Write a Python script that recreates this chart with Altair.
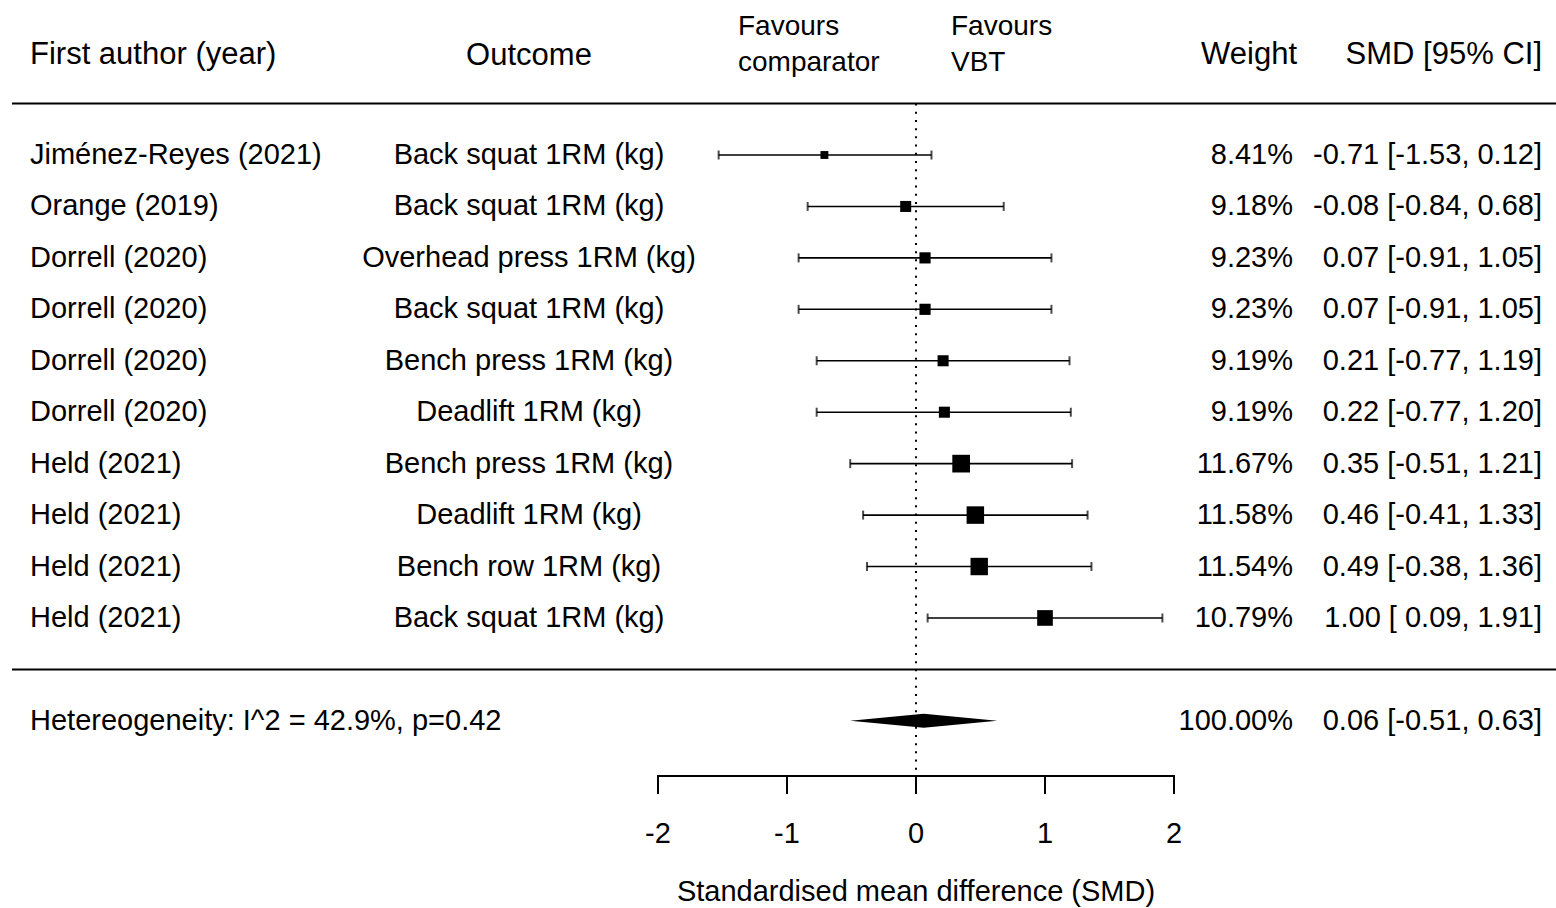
import altair as alt
import pandas as pd

FONT = "Liberation Sans"

# ---- data ----
authors = ["Jiménez-Reyes (2021)", "Orange (2019)", "Dorrell (2020)", "Dorrell (2020)",
           "Dorrell (2020)", "Dorrell (2020)", "Held (2021)", "Held (2021)",
           "Held (2021)", "Held (2021)"]
outcomes = ["Back squat 1RM (kg)", "Back squat 1RM (kg)", "Overhead press 1RM (kg)",
            "Back squat 1RM (kg)", "Bench press 1RM (kg)", "Deadlift 1RM (kg)",
            "Bench press 1RM (kg)", "Deadlift 1RM (kg)", "Bench row 1RM (kg)",
            "Back squat 1RM (kg)"]
weights = [8.41, 9.18, 9.23, 9.23, 9.19, 9.19, 11.67, 11.58, 11.54, 10.79]
smd = [-0.71, -0.08, 0.07, 0.07, 0.21, 0.22, 0.35, 0.46, 0.49, 1.00]
ci_lo = [-1.53, -0.84, -0.91, -0.91, -0.77, -0.77, -0.51, -0.41, -0.38, 0.09]
ci_hi = [0.12, 0.68, 1.05, 1.05, 1.19, 1.20, 1.21, 1.33, 1.36, 1.91]

pooled_est = 0.06
pooled_lo = -0.51
pooled_hi = 0.63
pooled_weight = 100.00
heterogeneity = "Hetereogeneity: I^2 = 42.9%, p=0.42"

axis_ticks = [-2, -1, 0, 1, 2]
axis_title = "Standardised mean difference (SMD)"

# ---- tables ----
rows = list(range(1, len(authors) + 1))
df = pd.DataFrame({
    "row": rows, "author": authors, "outcome": outcomes, "weight": weights,
    "est": smd, "lo": ci_lo, "hi": ci_hi,
})
df["wlabel"] = [f"{w:.2f}%" for w in weights]
df["cilabel"] = [f"{e:.2f} [{l:5.2f}, {h:.2f}]" for e, l, h in zip(smd, ci_lo, ci_hi)]

sum_row = len(rows) + 2
half_h = 7 / 51.44
diamond = pd.DataFrame({
    "x": [pooled_lo, pooled_est, pooled_hi],
    "ylo": [sum_row, sum_row - half_h, sum_row],
    "yhi": [sum_row, sum_row + half_h, sum_row],
})
summary = pd.DataFrame({
    "row": [sum_row],
    "het": [heterogeneity],
    "wlabel": [f"{pooled_weight:.2f}%"],
    "cilabel": [f"{pooled_est:.2f} [{pooled_lo:.2f}, {pooled_hi:.2f}]"],
})
seps = pd.DataFrame({"row": [0, len(rows) + 1]})
ref = pd.DataFrame({"x": [0], "row": [0], "title": [axis_title]})
axdf = pd.DataFrame({"x": [axis_ticks[0]], "x2": [axis_ticks[-1]]})
ticks = pd.DataFrame({"x": axis_ticks, "label": [str(t) for t in axis_ticks]})

# ---- scales ----
xscale = alt.Scale(domain=[-7.1008, 4.9612], nice=False, zero=False)
yscale = alt.Scale(domain=[-2.0132, 15.6384], nice=False, zero=False, reverse=True)
Y = alt.Y("row:Q", scale=yscale, axis=None)


def X(field):
    return alt.X(field, scale=xscale, axis=None)


txt = dict(font=FONT, fontSize=29, color="black", baseline="middle")
htxt = dict(font=FONT, fontSize=31, color="black", baseline="middle")

base = alt.Chart(df)

ci = base.mark_rule(color="black", strokeWidth=1.6).encode(x=X("lo:Q"), x2="hi:Q", y=Y)
cap_lo = base.mark_tick(color="black", orient="vertical", size=9, thickness=2).encode(x=X("lo:Q"), y=Y)
cap_hi = base.mark_tick(color="black", orient="vertical", size=9, thickness=2).encode(x=X("hi:Q"), y=Y)
boxes = base.mark_square(color="black", filled=True, opacity=1).encode(
    x=X("est:Q"), y=Y,
    size=alt.Size("weight:Q", scale=alt.Scale(domain=[8.41, 11.67], range=[62, 313], zero=False),
                  legend=None),
)

zero_line = alt.Chart(ref).mark_rule(color="black", strokeWidth=2, strokeDash=[2, 6.2]).encode(
    x=X("x:Q"), y=Y, y2=alt.value(772))

hlines = alt.Chart(seps).mark_rule(color="black", strokeWidth=2).encode(
    x=alt.value(12), x2=alt.value(1556), y=Y)

# bottom axis (drawn through the x scale)
axis_line = alt.Chart(axdf).mark_rule(color="black", strokeWidth=2).encode(
    x=X("x:Q"), x2="x2:Q", y=alt.value(776))
axis_ticks_m = alt.Chart(ticks).mark_rule(color="black", strokeWidth=2).encode(
    x=X("x:Q"), y=alt.value(775), y2=alt.value(794))
axis_labels = alt.Chart(ticks).mark_text(align="center", **txt).encode(
    x=X("x:Q"), y=alt.value(834), text="label:N")
axis_title_m = alt.Chart(ref).mark_text(align="center", **txt).encode(
    x=X("x:Q"), y=alt.value(892), text="title:N")

diamond_mark = alt.Chart(diamond).mark_area(color="black", interpolate="linear").encode(
    x=X("x:Q"),
    y=alt.Y("ylo:Q", scale=yscale, axis=None),
    y2="yhi:Q",
)

t_author = base.mark_text(align="left", **txt).encode(x=alt.value(30), y=Y, text="author:N")
t_outcome = base.mark_text(align="center", **txt).encode(x=alt.value(529), y=Y, text="outcome:N")
t_weight = base.mark_text(align="right", **txt).encode(x=alt.value(1293), y=Y, text="wlabel:N")
t_ci = base.mark_text(align="right", **txt).encode(x=alt.value(1542), y=Y, text="cilabel:N")

sbase = alt.Chart(summary)
s_het = sbase.mark_text(align="left", **txt).encode(x=alt.value(30), y=Y, text="het:N")
s_w = sbase.mark_text(align="right", **txt).encode(x=alt.value(1293), y=Y, text="wlabel:N")
s_ci = sbase.mark_text(align="right", **txt).encode(x=alt.value(1542), y=Y, text="cilabel:N")

hdr = alt.Chart(pd.DataFrame({"a": [0]}))
h1 = hdr.mark_text(align="left", text="First author (year)", **htxt).encode(x=alt.value(30), y=alt.value(55))
h2 = hdr.mark_text(align="center", text="Outcome", **htxt).encode(x=alt.value(529), y=alt.value(56))
h3 = hdr.mark_text(align="right", text="Weight", **htxt).encode(x=alt.value(1297), y=alt.value(55))
h4 = hdr.mark_text(align="right", text="SMD [95% CI]", **htxt).encode(x=alt.value(1542), y=alt.value(55))
fav = dict(font=FONT, fontSize=28, color="black", baseline="middle", align="left")
h5a = hdr.mark_text(text="Favours", **fav).encode(x=alt.value(738), y=alt.value(27))
h5b = hdr.mark_text(text="comparator", **fav).encode(x=alt.value(738), y=alt.value(63))
h6a = hdr.mark_text(text="Favours", **fav).encode(x=alt.value(951), y=alt.value(27))
h6b = hdr.mark_text(text="VBT", **fav).encode(x=alt.value(951), y=alt.value(63))

chart = alt.layer(
    zero_line, hlines, axis_line, axis_ticks_m, axis_labels, axis_title_m,
    ci, cap_lo, cap_hi, boxes, diamond_mark,
    t_author, t_outcome, t_weight, t_ci, s_het, s_w, s_ci,
    h1, h2, h3, h4, h5a, h5b, h6a, h6b,
).properties(
    width=1556, height=908,
    autosize=alt.AutoSizeParams(type="none"),
    padding=0,
    background="white",
).configure_view(stroke=None)

chart.save("out.html", embed_options={"renderer": "svg", "actions": False})
